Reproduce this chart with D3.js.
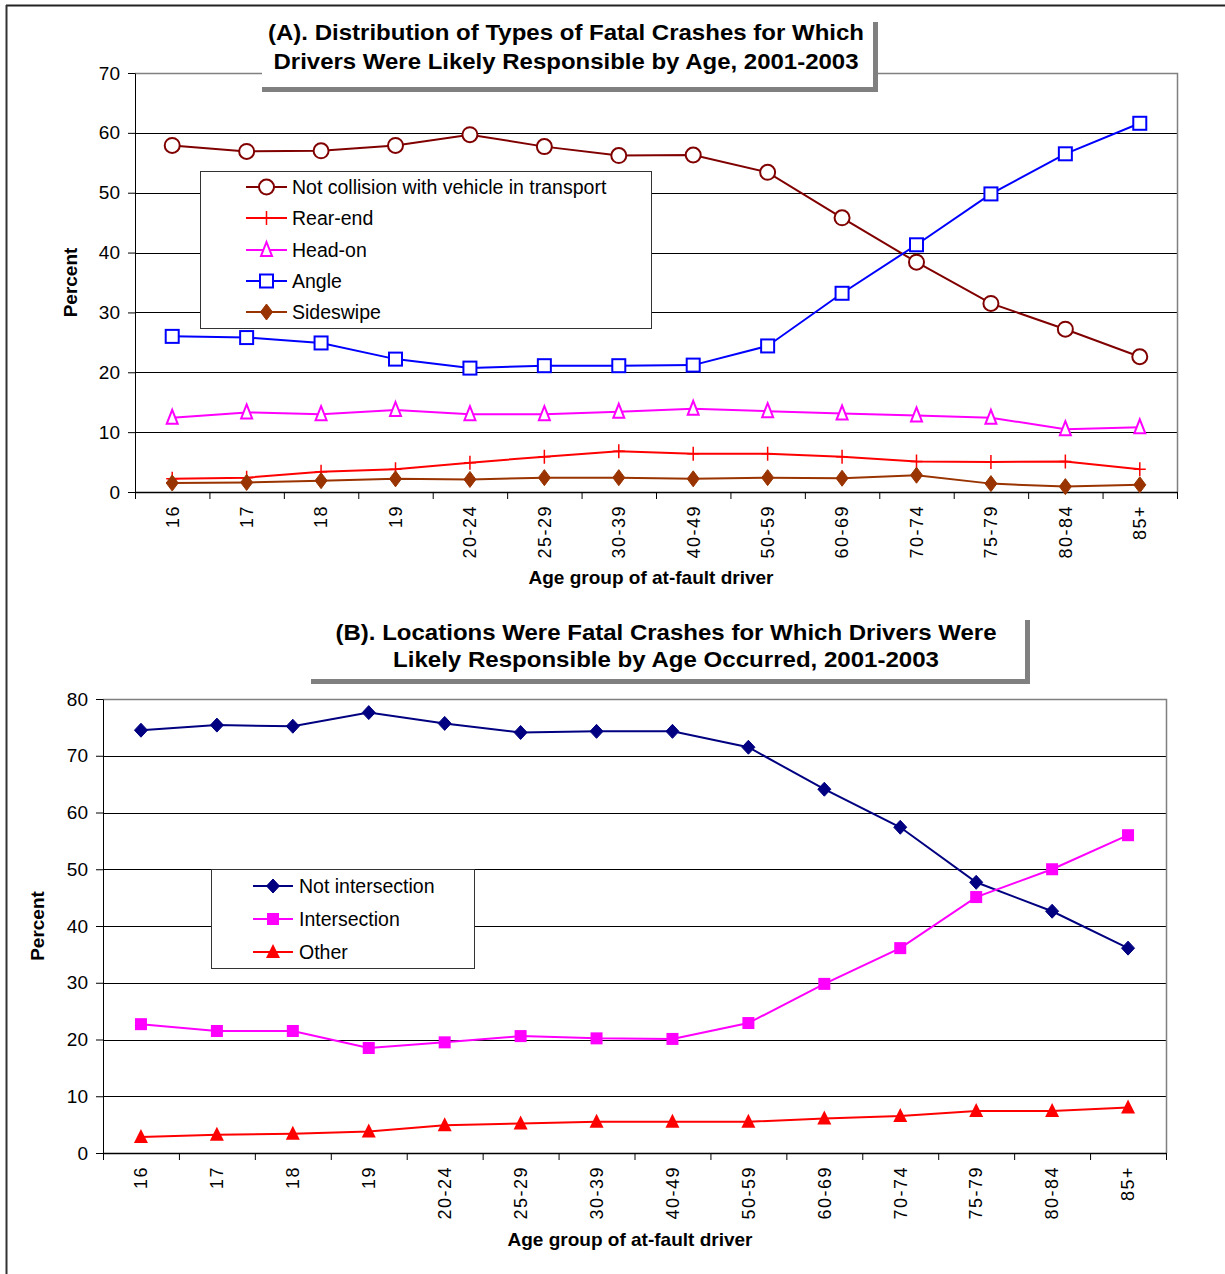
<!DOCTYPE html>
<html><head><meta charset="utf-8">
<script src="https://cdn.jsdelivr.net/npm/d3@7"></script>
<style>
body{margin:0;background:#fff}
svg{display:block;font-family:"Liberation Sans",Arial,sans-serif}
</style>
</head><body>
<svg id="c" width="1225" height="1274"></svg>
<script>
// ---------- DATA ----------
const ageGroups = ["16","17","18","19","20-24","25-29","30-39","40-49","50-59","60-69","70-74","75-79","80-84","85+"];
// Chart A: types of fatal crashes (percent)
const notCollision = [57.9,56.9,57.0,57.9,59.7,57.7,56.2,56.3,53.4,45.8,38.4,31.5,27.2,22.6];
const rearEnd      = [2.2,2.4,3.4,3.8,4.9,5.9,6.8,6.4,6.4,5.9,5.1,5.0,5.1,3.8];
const headOn       = [12.4,13.3,13.0,13.7,13.0,13.0,13.4,13.9,13.5,13.1,12.8,12.4,10.5,10.8];
const angle        = [26.0,25.8,24.9,22.2,20.7,21.1,21.1,21.2,24.4,33.2,41.3,49.8,56.5,61.6];
const sideswipe    = [1.5,1.6,1.9,2.2,2.1,2.4,2.4,2.2,2.4,2.3,2.8,1.4,0.9,1.2];
const ticksA = [0,10,20,30,40,50,60,70];
// Chart B: locations (percent)
const notIntersection = [74.5,75.4,75.2,77.6,75.7,74.1,74.3,74.3,71.5,64.1,57.4,47.7,42.6,36.1];
const intersection    = [22.7,21.5,21.5,18.5,19.5,20.6,20.2,20.1,22.9,29.8,36.1,45.1,50.0,56.0];
const other           = [2.8,3.2,3.4,3.8,4.9,5.2,5.5,5.5,5.5,6.1,6.5,7.4,7.4,8.0];
const ticksB = [0,10,20,30,40,50,60,70,80];

const titleA = ["(A). Distribution of Types of Fatal Crashes for Which","Drivers Were Likely Responsible by Age, 2001-2003"];
const titleB = ["(B). Locations Were Fatal Crashes for Which Drivers Were","Likely Responsible by Age Occurred, 2001-2003"];
const yTitle = "Percent";
const xTitle = "Age group of at-fault driver";

const svg = d3.select("#c");

// outer frame
svg.append("line").attr("x1",6).attr("x2",1225).attr("y1",5.5).attr("y2",5.5).attr("stroke","#222").attr("stroke-width",2);
svg.append("line").attr("x1",6.5).attr("x2",6.5).attr("y1",5).attr("y2",1274).attr("stroke","#333").attr("stroke-width",2);

function marker(g, type, color, cx, cy) {
  const m = g.append("g").attr("transform",`translate(${cx},${cy})`);
  switch(type){
    case "circleOpen":
      m.append("circle").attr("r",7.5).attr("fill","#fff").attr("stroke",color).attr("stroke-width",2); break;
    case "plus":
      m.append("path").attr("d","M-6,0H6M0,-7V7").attr("stroke",color).attr("stroke-width",1.5).attr("fill","none"); break;
    case "triOpen":
      m.append("path").attr("d","M0,-8L5.5,6H-5.5Z").attr("fill","#fff").attr("stroke",color).attr("stroke-width",2); break;
    case "squareOpen":
      m.append("rect").attr("x",-6.5).attr("y",-6.5).attr("width",13).attr("height",13).attr("fill","#fff").attr("stroke",color).attr("stroke-width",2); break;
    case "diamondTall":
      m.append("path").attr("d","M0,-8L6,0L0,8L-6,0Z").attr("fill",color).attr("stroke",color).attr("stroke-width",1); break;
    case "diamond":
      m.append("path").attr("d","M0,-7L6.5,0L0,7L-6.5,0Z").attr("fill",color).attr("stroke",color).attr("stroke-width",1); break;
    case "square":
      m.append("rect").attr("x",-6).attr("y",-6).attr("width",12).attr("height",12).attr("fill",color); break;
    case "triangle":
      m.append("path").attr("d","M0,-8L7,6H-7Z").attr("fill",color); break;
  }
}

function chart(cfg) {
  const g = svg.append("g");
  const x = d3.scaleBand().domain(ageGroups).range([cfg.left,cfg.right]).paddingInner(0).paddingOuter(0);
  const y = d3.scaleLinear().domain([0,cfg.yMax]).range([cfg.bottom,cfg.top]);
  const cx = d => x(d) + x.bandwidth()/2;

  // gridlines
  cfg.yTicks.filter(t => t>0 && t<cfg.yMax).forEach(t => {
    g.append("line").attr("x1",cfg.left).attr("x2",cfg.right).attr("y1",Math.round(y(t))+0.5).attr("y2",Math.round(y(t))+0.5)
      .attr("stroke","#000").attr("stroke-width",1);
  });
  // plot border top/right
  g.append("path").attr("d",`M${cfg.left},${y(cfg.yMax)+0.5}H${cfg.right+0.5}V${cfg.bottom}`)
    .attr("fill","none").attr("stroke","#808080").attr("stroke-width",1.5);

  // y axis
  const ya = g.append("g").attr("transform",`translate(${cfg.left},0)`)
    .call(d3.axisLeft(y).tickValues(cfg.yTicks).tickSize(7).tickSizeOuter(0).tickPadding(8).tickFormat(d3.format("d")));
  ya.selectAll("text").attr("font-size",19).attr("fill","#000").style("font-family","'Liberation Sans',Arial,sans-serif");
  ya.selectAll("line,path").attr("stroke","#000");

  // x axis labels
  const xa = g.append("g").attr("transform",`translate(0,${cfg.bottom})`)
    .call(d3.axisBottom(x).tickSize(0).tickSizeOuter(0));
  xa.select(".domain").attr("stroke","#000").attr("stroke-width",1.5);
  xa.selectAll("text").attr("transform","rotate(-90)").attr("text-anchor","end")
    .attr("x",-13).attr("y",0).attr("dy","0.35em").attr("font-size",18).attr("letter-spacing","1.5px")
    .attr("fill","#000").style("font-family","'Liberation Sans',Arial,sans-serif");
  // boundary tick marks
  const bscale = d3.scaleLinear().domain([0,ageGroups.length]).range([cfg.left,cfg.right]);
  const ba = g.append("g").attr("transform",`translate(0,${cfg.bottom})`)
    .call(d3.axisBottom(bscale).tickValues(d3.range(ageGroups.length+1)).tickSize(7).tickFormat(""));
  ba.select(".domain").remove();
  ba.selectAll("line").attr("stroke","#000");

  // axis titles
  g.append("text").attr("transform",`translate(${cfg.yTitleX},${(cfg.top+cfg.bottom)/2}) rotate(-90)`)
    .attr("text-anchor","middle").attr("dy","0.35em").attr("font-size",19).attr("font-weight","bold").text(yTitle);
  g.append("text").attr("x",cfg.xTitleX).attr("y",cfg.xTitleY).attr("dy","0.35em")
    .attr("text-anchor","middle").attr("font-size",19).attr("font-weight","bold").text(xTitle);

  // series
  const line = d3.line().x((d,i)=>cx(ageGroups[i])).y(d=>y(d));
  cfg.series.forEach(s => {
    g.append("path").datum(s.values).attr("d",line).attr("fill","none").attr("stroke",s.color).attr("stroke-width",2);
  });
  cfg.series.forEach(s => {
    s.values.forEach((v,i) => marker(g, s.marker, s.color, cx(ageGroups[i]), y(v)));
  });

  // legend
  const L = cfg.legend;
  g.append("rect").attr("x",L.x+0.5).attr("y",L.y+0.5).attr("width",L.w).attr("height",L.h)
    .attr("fill","#fff").attr("stroke","#333").attr("stroke-width",1);
  cfg.series.forEach((s,i) => {
    const yy = L.rows[i];
    g.append("line").attr("x1",L.x1).attr("x2",L.x2).attr("y1",yy).attr("y2",yy).attr("stroke",s.color).attr("stroke-width",2);
    marker(g, s.marker, s.color, (L.x1+L.x2)/2, yy);
    g.append("text").attr("x",L.tx).attr("y",yy).attr("dy","0.35em").attr("font-size",19.5).attr("fill","#000").text(s.name);
  });

  // title box
  const T = cfg.title;
  g.append("rect").attr("x",T.x).attr("y",T.y+8).attr("width",T.w+5).attr("height",T.h-3).attr("fill","#808080");
  g.append("rect").attr("x",T.x).attr("y",T.y).attr("width",T.w).attr("height",T.h).attr("fill","#fff");
  T.lines.forEach((t,i) => {
    g.append("text").attr("x",T.cx).attr("y",T.rows[i]).attr("dy","0.35em").attr("text-anchor","middle")
      .attr("font-size",22.5).attr("font-weight","bold").attr("textLength",T.lens[i]).attr("lengthAdjust","spacingAndGlyphs").text(t);
  });
}

chart({
  left:135, right:1177, top:73, bottom:492, yMax:70, yTicks:ticksA,
  yTitleX:70, xTitleX:651, xTitleY:577,
  series:[
    {name:"Not collision with vehicle in transport", values:notCollision, color:"#800000", marker:"circleOpen"},
    {name:"Rear-end", values:rearEnd, color:"#FF0000", marker:"plus"},
    {name:"Head-on", values:headOn, color:"#FF00FF", marker:"triOpen"},
    {name:"Angle", values:angle, color:"#0000FF", marker:"squareOpen"},
    {name:"Sideswipe", values:sideswipe, color:"#993300", marker:"diamondTall"}
  ],
  legend:{x:200, y:171, w:451, h:157, rows:[187,218,250,281,312], x1:246, x2:287, tx:292},
  title:{x:262, y:14, w:611, h:73, cx:566, rows:[32,61], lens:[596,585], lines:titleA}
});

chart({
  left:103, right:1166, top:699, bottom:1153, yMax:80, yTicks:ticksB,
  yTitleX:37, xTitleX:630, xTitleY:1239,
  series:[
    {name:"Not intersection", values:notIntersection, color:"#000080", marker:"diamond"},
    {name:"Intersection", values:intersection, color:"#FF00FF", marker:"square"},
    {name:"Other", values:other, color:"#FF0000", marker:"triangle"}
  ],
  legend:{x:211, y:869, w:263, h:99, rows:[886,919,952], x1:253, x2:293, tx:299},
  title:{x:311, y:612, w:714, h:67, cx:666, rows:[632,659], lens:[661,546], lines:titleB}
});
</script>
</body></html>
